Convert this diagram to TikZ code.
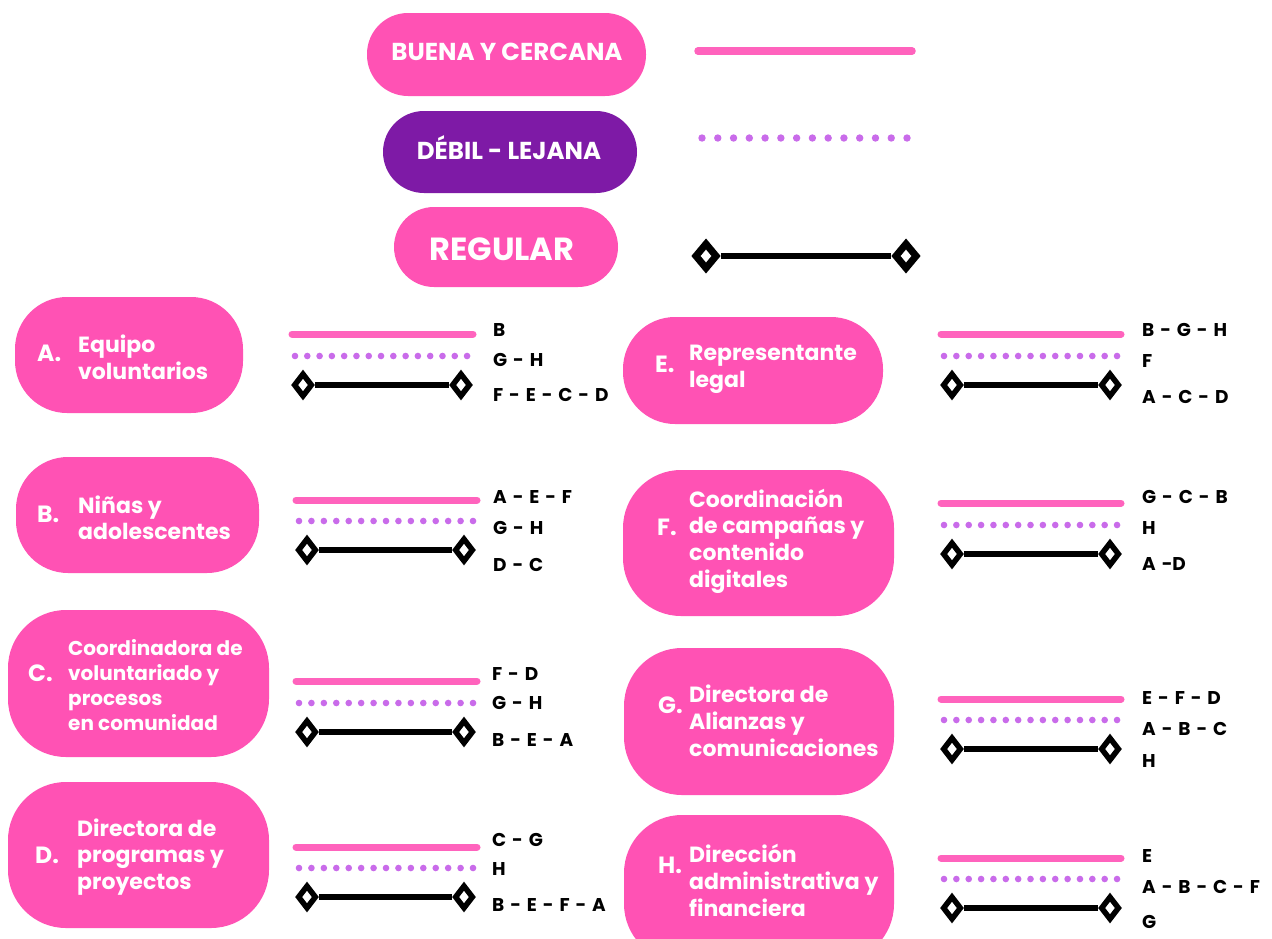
\documentclass[tikz,border=0pt]{standalone}
\usepackage{fontspec}
\setmainfont{Poppins}
\usetikzlibrary{shapes.geometric}
\definecolor{pillpink}{HTML}{FF52B4}
\definecolor{linepink}{HTML}{FF63BD}
\definecolor{dotviolet}{HTML}{C96BEA}
\definecolor{purplepill}{HTML}{7E1AA6}
\newcommand\widespaces{\spaceskip 0.32em\relax}
\tikzset{
  pill/.style={fill=pillpink, draw=none, rounded corners=52pt, inner sep=0pt},
  ptext/.style={text=white, font=\fontsize{22}{25}\selectfont\bfseries, inner sep=0pt, anchor=base west},
  ptextsm/.style={text=white, font=\fontsize{20}{23}\selectfont\bfseries, inner sep=0pt, anchor=base west},
  letter/.style={text=white, font=\fontsize{23.5}{25}\selectfont\bfseries, inner sep=0pt, anchor=base west},
  legtext/.style={text=white, font=\fontsize{24.5}{28}\selectfont\bfseries, inner sep=0pt, anchor=base},
  reltext/.style={text=black, font=\fontsize{18.5}{21}\selectfont\bfseries, execute at begin node={\widespaces}, inner sep=0pt, anchor=base west},
  strongline/.style={draw=linepink, line width=7pt, line cap=round},
  regline/.style={draw=black, line width=5.5pt},
  diam/.style={shape=diamond, draw=black, fill=white, line width=5.5pt, minimum width=19pt, minimum height=24pt, inner sep=0pt},
  bigdiam/.style={diam, line width=7pt, minimum width=23pt, minimum height=27pt},
}
% multi-line pill text: id, style, x, first baseline, spacing, lines
\newcommand\pilltext[6]{%
  \foreach \ln [count=\k] in {#6}{%
    \node[#2] (#1-t\k) at (#3, {#4+(\k-1)*#5}) {\ln};
  }%
}
% solid line: id, x start, x end, y
\newcommand\strongrow[4]{%
  \coordinate (#1-s1) at (#2,#4);
  \coordinate (#1-s2) at (#3,#4);
  \draw[strongline] (#1-s1) -- (#1-s2);
}
% dotted line: id, x0, pitch, n, y, radius
\newcommand\dotrow[6]{%
  \foreach \j in {1,...,#4}{%
    \fill[dotviolet] ({#2+(\j-1)*#3},#5) circle (#6);
  }%
}
% regular line: id, x1, x2, y, diamond style
\newcommand\regrow[5]{%
  \node[#5] (#1-d1) at (#2,#4) {};
  \node[#5] (#1-d2) at (#3,#4) {};
  \draw[regline] (#1-d1) -- (#1-d2);
}
% labels: id, x, y1, y2, y3, t1, t2, t3
\newcommand\rellabels[8]{%
  \node[reltext] (#1-l1) at (#2,#3) {#6};
  \node[reltext] (#1-l2) at (#2,#4) {#7};
  \node[reltext] (#1-l3) at (#2,#5) {#8};
}
\begin{document}
\begin{tikzpicture}[x=1pt,y=-1pt]
\useasboundingbox (0,0) rectangle (1272,938);
\clip (0,0) rectangle (1272,938);
\fill[white] (0,0) rectangle (1272,938);

% ---------- legend ----------
\node[pill, rounded corners=41pt, minimum width=279pt, minimum height=83pt] (LB) at (506.5,54.5) {};
\node[legtext] (LB-t) at (507,60) {BUENA Y CERCANA};
\node[pill, fill=purplepill, rounded corners=41pt, minimum width=254pt, minimum height=82pt] (LD) at (510,152) {};
\node[legtext] (LD-t) at (509,159) {DÉBIL - LEJANA};
\node[pill, rounded corners=40pt, minimum width=224pt, minimum height=80pt] (LR) at (506,247) {};
\node[legtext, font=\fontsize{32}{36}\selectfont\bfseries] (LR-t) at (502,260) {REGULAR};

\coordinate (leg-s1) at (698,51);
\coordinate (leg-s2) at (912,51);
\draw[strongline, line width=7.5pt] (leg-s1) -- (leg-s2);
\dotrow{leg}{702}{15.77}{14}{138}{3.7}
\regrow{leg}{706}{906}{256}{bigdiam}
\draw[regline, line width=6.5pt] (leg-d1) -- (leg-d2);

% ---------- left column ----------
\node[pill, minimum width=228pt, minimum height=116pt] (A) at (129,355) {};
\node[letter] (A-let) at (37,361) {A.};
\pilltext{A}{ptext}{78}{352}{27}{Equipo,voluntarios}
\strongrow{A}{292}{473}{334}
\dotrow{A}{295}{12.29}{15}{356}{3.3}
\regrow{A}{303}{461}{385}{diam}
\rellabels{A}{493}{336}{366}{401}{B}{G - H}{F - E - C - D}

\node[pill, minimum width=243pt, minimum height=116pt] (B) at (137.5,515) {};
\node[letter] (B-let) at (37,522) {B.};
\pilltext{B}{ptext}{78}{513}{26}{Niñas y,adolescentes}
\strongrow{B}{296}{477}{500}
\dotrow{B}{299}{12.43}{15}{521}{3.3}
\regrow{B}{307}{464}{550}{diam}
\rellabels{B}{493}{503}{534}{571}{A - E - F}{G - H}{D - C}

\node[pill, rounded corners=58pt, minimum width=261pt, minimum height=147pt] (C) at (138.5,683.5) {};
\node[letter] (C-let) at (28,681) {C.};
\pilltext{C}{ptextsm}{68}{655}{25}{Coordinadora de,voluntariado y,procesos,en comunidad}
\strongrow{C}{296}{477}{681}
\dotrow{C}{299}{12.43}{15}{703}{3.3}
\regrow{C}{307}{464}{732}{diam}
\rellabels{C}{492}{680}{709}{746}{F - D}{G - H}{B - E - A}

\node[pill, rounded corners=58pt, minimum width=261pt, minimum height=146pt] (D) at (138.5,855) {};
\node[letter] (D-let) at (35,863) {D.};
\pilltext{D}{ptext}{77}{836}{26.5}{Directora de,programas y,proyectos}
\strongrow{D}{296}{477}{847}
\dotrow{D}{299}{12.43}{15}{868}{3.3}
\regrow{D}{307}{464}{897}{diam}
\rellabels{D}{492}{846}{875}{911}{C - G}{H}{B - E - F - A}

% ---------- right column ----------
\node[pill, minimum width=260pt, minimum height=107pt] (E) at (753,370.5) {};
\node[letter] (E-let) at (655,372) {E.};
\pilltext{E}{ptext}{689}{360}{27}{Representante,legal}
\strongrow{E}{941}{1121}{334}
\dotrow{E}{944}{12.36}{15}{356}{3.3}
\regrow{E}{952}{1110}{385}{diam}
\rellabels{E}{1142}{336}{367}{403}{B - G - H}{F}{A - C - D}

\node[pill, rounded corners=58pt, minimum width=271pt, minimum height=146pt] (F) at (758.5,543) {};
\node[letter] (F-let) at (657,535) {F.};
\pilltext{F}{ptext}{689}{507}{26.7}{Coordinación,de campañas y,contenido,digitales}
\strongrow{F}{941}{1121}{503}
\dotrow{F}{944}{12.36}{15}{525}{3.3}
\regrow{F}{952}{1110}{554}{diam}
\rellabels{F}{1142}{503}{534}{570}{G - C - B}{H}{A -D}

\node[pill, rounded corners=58pt, minimum width=270pt, minimum height=147pt] (G) at (759,721.5) {};
\node[letter] (G-let) at (658,713) {G.};
\pilltext{G}{ptext}{689}{702}{27}{Directora de,Alianzas y,comunicaciones}
\strongrow{G}{941}{1121}{699}
\dotrow{G}{944}{12.36}{15}{720}{3.3}
\regrow{G}{952}{1110}{749}{diam}
\rellabels{G}{1142}{704}{735}{767}{E - F - D}{A - B - C}{H}

\node[pill, rounded corners=58pt, minimum width=270pt, minimum height=147pt] (H) at (759,888.5) {};
\node[letter] (H-let) at (658,873) {H.};
\pilltext{H}{ptext}{689}{862}{27}{Dirección,administrativa y,financiera}
\strongrow{H}{941}{1121}{858}
\dotrow{H}{944}{12.36}{15}{879}{3.3}
\regrow{H}{952}{1110}{908}{diam}
\rellabels{H}{1142}{862}{893}{928}{E}{A - B - C - F}{G}
\end{tikzpicture}
\end{document}
